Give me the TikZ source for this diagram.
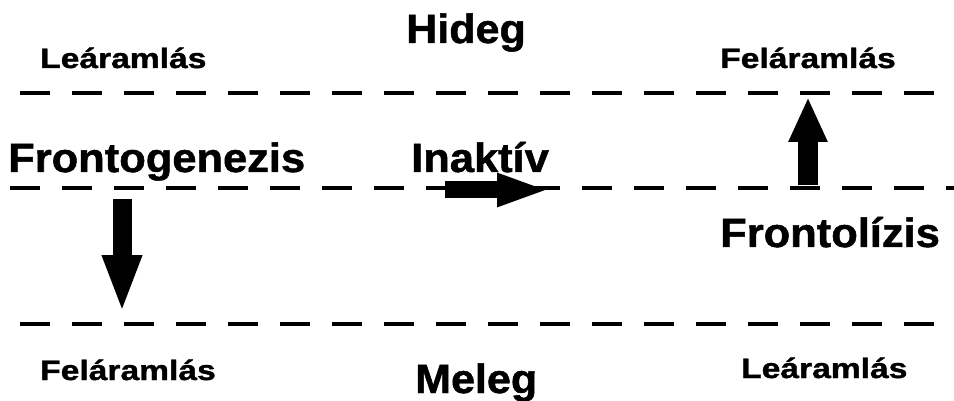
\documentclass[tikz,border=0pt]{standalone}
\usepackage{fontspec}
\setmainfont{Liberation Sans}[BoldFeatures={FakeBold=1.2}]
\usetikzlibrary{arrows.meta}

\begin{document}
\begin{tikzpicture}[x=1pt,y=-1pt,
  biglabel/.style={anchor=base west,inner sep=0pt,font=\fontsize{41}{41}\selectfont\bfseries},
  smalllabel/.style={anchor=base west,inner sep=0pt,font=\fontsize{28}{28}\selectfont\bfseries},
  frontline/.style={line width=4pt,dash pattern=on 30pt off 22pt},
  blockarrow/.style={line width=#1,line cap=butt}
]
\useasboundingbox[fill=white] (0,0) rectangle (954,401);

% level boundaries
\coordinate (l1a) at (20,93);  \coordinate (l1b) at (954,93);
\coordinate (l2a) at (10,188); \coordinate (l2b) at (954,188);
\coordinate (l3a) at (20,324); \coordinate (l3b) at (940,324);
\draw[frontline] (l1a) -- (l1b);
\draw[frontline] (l2a) -- (l2b);
\draw[frontline] (l3a) -- (l3b);

% labels
\node[biglabel] (hideg) at (406,43) {\scalebox{1.05}[1]{Hideg}};
\node[biglabel] (meleg) at (415,393) {\scalebox{1.05}[1]{Meleg}};
\node[biglabel] (genezis) at (8,172) {\scalebox{1.06}[1]{Frontogenezis}};
\node[biglabel] (inaktiv) at (411,172) {\scalebox{1.06}[1]{Inaktív}};
\node[biglabel] (lizis) at (720,247) {\scalebox{1.06}[1]{Frontolízis}};
\node[smalllabel] (le1) at (40,68) {\scalebox{1.2}[1]{Leáramlás}};
\node[smalllabel] (fel1) at (720,68) {\scalebox{1.2}[1]{Feláramlás}};
\node[smalllabel] (fel2) at (40,380) {\scalebox{1.2}[1]{Feláramlás}};
\node[smalllabel] (le2) at (741,378) {\scalebox{1.2}[1]{Leáramlás}};

% vertical and horizontal motion arrows
\coordinate (dn1) at (122,199); \coordinate (dn2) at (122,313);
\coordinate (rt1) at (445,190); \coordinate (rt2) at (550,190);
\coordinate (up1) at (808,185); \coordinate (up2) at (808,97);
\draw[blockarrow=19pt,-{Triangle[width=36pt,length=58pt]}] (dn1) -- (dn2);
\draw[blockarrow=17pt,-{Triangle[width=30pt,length=53pt]}] (rt1) -- (rt2);
\draw[blockarrow=20pt,-{Triangle[width=36pt,length=45pt]}] (up1) -- (up2);
\end{tikzpicture}
\end{document}
